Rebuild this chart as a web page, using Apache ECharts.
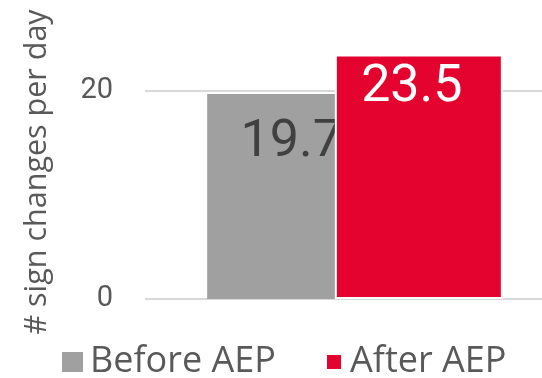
<!DOCTYPE html>
<html>
<head>
<meta charset="utf-8">
<script src="https://cdn.jsdelivr.net/npm/echarts@6/dist/echarts.min.js"></script>
<style>
  html, body { margin: 0; padding: 0; background: #fff; }
  #chart { width: 542px; height: 378px; }
</style>
</head>
<body>
<div id="chart"></div>
<script>
// Average number of sign changes per day, before and after AEP
const categories = ['sign changes'];
const seriesNames = ['Before AEP', 'After AEP'];
const beforeValues = [19.7];
const afterValues = [23.5];
const yTicks = [0, 20];
const yAxisTitle = '# sign changes per day';

const NUM_FONT = 'Roboto, "Noto Sans", sans-serif';
const TXT_FONT = '"Open Sans", Roboto, sans-serif';
const GRAY = '#a0a0a0';
const RED = '#e4032e';
const TEXT = '#595959';

const yMin = yTicks[0];
const yMax = yTicks[yTicks.length - 1];
const yStep = yTicks[1] - yTicks[0];

const chart = echarts.init(document.getElementById('chart'), null, { renderer: 'canvas' });

chart.setOption({
  animation: false,
  backgroundColor: '#fff',
  textStyle: { fontFamily: NUM_FONT },
  grid: [
    // grid 0 carries the tick labels and gridlines
    { left: 145, right: 0, top: 91, bottom: 79, containLabel: false },
    // grid 1 carries the bars, offset so the pair sits right of centre
    { left: 168, right: 0, top: 91, bottom: 79, containLabel: false }
  ],
  legend: [
    {
      data: [seriesNames[0]],
      left: 57, top: 339,
      itemWidth: 21, itemHeight: 20,
      icon: 'rect',
      textStyle: { fontFamily: TXT_FONT, fontSize: 36, color: TEXT, padding: [0, 0, 0, 2] }
    },
    {
      data: [seriesNames[1]],
      left: 320, top: 339,
      itemWidth: 16, itemHeight: 16,
      icon: 'rect',
      textStyle: { fontFamily: TXT_FONT, fontSize: 36, color: TEXT, padding: [0, 0, 0, 3] }
    }
  ],
  xAxis: [
    {
      type: 'category', gridIndex: 0, data: categories,
      axisLine: { show: false }, axisTick: { show: false }, axisLabel: { show: false }
    },
    {
      type: 'category', gridIndex: 1, data: categories,
      axisLine: { show: false }, axisTick: { show: false }, axisLabel: { show: false }
    }
  ],
  yAxis: [
    {
      type: 'value', gridIndex: 0,
      min: yMin, max: yMax, interval: yStep,
      axisLine: { show: false },
      axisTick: { show: false },
      axisLabel: { fontFamily: NUM_FONT, fontSize: 29, color: TEXT, margin: 32 },
      splitLine: { lineStyle: { color: '#d9d9d9', width: 2 } }
    },
    {
      type: 'value', gridIndex: 1,
      min: yMin, max: yMax, interval: yStep,
      axisLine: { show: false }, axisTick: { show: false },
      axisLabel: { show: false }, splitLine: { show: false }
    }
  ],
  graphic: [
    {
      type: 'text',
      x: 37, y: 172,
      rotation: Math.PI / 2,
      style: {
        text: yAxisTitle,
        fontFamily: TXT_FONT, fontSize: 30.5, fill: TEXT,
        align: 'center', verticalAlign: 'middle'
      }
    }
  ],
  series: [
    {
      name: seriesNames[0],
      type: 'bar',
      xAxisIndex: 1, yAxisIndex: 1,
      data: beforeValues,
      barWidth: 168,
      barGap: '-24%',
      clip: false,
      z: 2,
      itemStyle: { color: GRAY },
      label: {
        show: true,
        position: 'insideTop',
        distance: 23,
        fontFamily: NUM_FONT, fontSize: 52, color: '#404040',
        formatter: p => p.value.toFixed(1)
      }
    },
    {
      name: seriesNames[1],
      type: 'bar',
      xAxisIndex: 1, yAxisIndex: 1,
      data: afterValues,
      barWidth: 168,
      clip: false,
      z: 3,
      itemStyle: { color: RED, borderColor: '#fff', borderWidth: 2 },
      label: {
        show: true,
        position: 'insideTop',
        distance: 7,
        offset: [-7, 0],
        fontFamily: NUM_FONT, fontSize: 52, color: '#fff',
        formatter: p => p.value.toFixed(1)
      }
    }
  ]
});
</script>
</body>
</html>
